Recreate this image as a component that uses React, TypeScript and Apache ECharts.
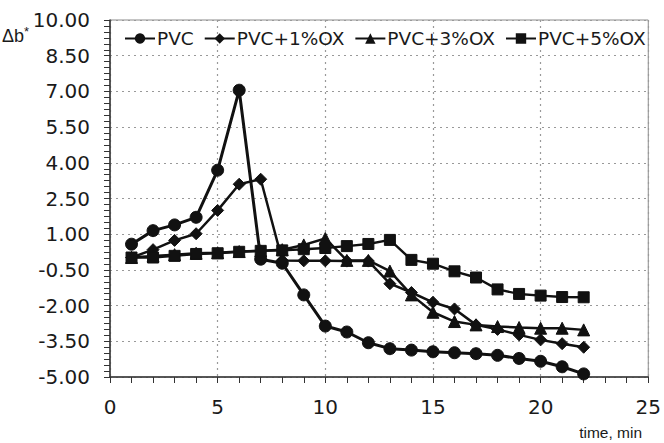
import React, { useEffect, useRef } from "react";
import * as echarts from "echarts";

const times = [1, 2, 3, 4, 5, 6, 7, 8, 9, 10, 11, 12, 13, 14, 15, 16, 17, 18, 19, 20, 21, 22];
const pvc = [0.58, 1.15, 1.39, 1.71, 3.69, 7.05, -0.05, -0.22, -1.55, -2.86, -3.11, -3.56, -3.81, -3.87, -3.94, -3.98, -4.02, -4.09, -4.22, -4.34, -4.57, -4.87];
const pvc1 = [0.02, 0.35, 0.74, 1.02, 2.0, 3.1, 3.31, -0.1, -0.12, -0.12, -0.13, -0.13, -1.08, -1.45, -1.86, -2.14, -2.81, -3.0, -3.23, -3.44, -3.6, -3.75];
const pvc3 = [0.02, 0.08, 0.14, 0.2, 0.22, 0.27, 0.3, 0.35, 0.55, 0.82, -0.1, -0.1, -0.55, -1.55, -2.28, -2.67, -2.81, -2.88, -2.92, -2.95, -2.95, -3.02];
const pvc5 = [0.02, 0.02, 0.09, 0.17, 0.2, 0.26, 0.3, 0.32, 0.37, 0.42, 0.5, 0.59, 0.76, -0.08, -0.24, -0.56, -0.82, -1.32, -1.51, -1.58, -1.64, -1.65];
const seriesNames = ["PVC", "PVC+1%OX", "PVC+3%OX", "PVC+5%OX"];
const seriesSymbols = ["circle", "diamond", "triangle", "rect"];
const yMin = -5;
const yMax = 10;
const yStep = 1.5;

const FONT = "DejaVu Sans, Verdana, sans-serif";
const FONT2 = "Liberation Sans, Arial, Helvetica, sans-serif";

export default function App() {
  const ref = useRef<HTMLDivElement>(null);
  useEffect(() => {
    if (!ref.current) return;
    const chart = echarts.init(ref.current, null, { renderer: "svg" });
    const values = [pvc, pvc1, pvc3, pvc5];
    const sizes = [12, 12, 12, 11];
    const widths = [3, 2.5, 2.5, 2.4];
    chart.setOption({
      animation: false,
      backgroundColor: "#ffffff",
      textStyle: { fontFamily: FONT },
      grid: {
        left: 110,
        right: 12,
        top: 20,
        bottom: 66,
        show: true,
        borderColor: "#8a8a8a",
        borderWidth: 1,
      },
      legend: {
        left: 119,
        top: 24,
        width: 540,
        itemWidth: 30,
        itemHeight: 13,
        itemGap: 10,
        textStyle: { fontSize: 18.5, color: "#1a1a1a", fontFamily: FONT, padding: [0, 0, 0, -3] },
        data: seriesNames,
      },
      xAxis: {
        type: "value",
        min: 0,
        max: 25,
        interval: 5,
        axisLine: { show: true, onZero: false, lineStyle: { color: "#333", width: 1.5 } },
        axisTick: { show: true, length: 6, lineStyle: { color: "#333" } },
        minorTick: { show: true, splitNumber: 5, length: 6, lineStyle: { color: "#333" } },
        axisLabel: { fontSize: 20, color: "#1a1a1a", margin: 20, fontFamily: FONT },
        splitLine: { show: true, lineStyle: { type: [2, 4], color: "#999", width: 1.2 } },
      },
      yAxis: [
        {
          type: "value",
          min: yMin,
          max: yMax,
          show: false,
        },
        {
          type: "value",
          position: "left",
          min: 0,
          max: yMax - yMin,
          interval: yStep,
          axisLine: { show: true, onZero: false, lineStyle: { color: "#333", width: 1.5 } },
          axisTick: { show: true, length: 6, lineStyle: { color: "#333" } },
          minorTick: { show: true, splitNumber: 6, length: 6, lineStyle: { color: "#333" } },
          axisLabel: {
            fontSize: 20,
            color: "#1a1a1a",
            margin: 20,
            fontFamily: FONT,
            formatter: (v: number) => (v + yMin).toFixed(2),
          },
          splitLine: { show: true, lineStyle: { type: [2, 4], color: "#999", width: 1.2 } },
        },
      ],
      series: seriesNames.map((name, i) => ({
        name,
        type: "line",
        yAxisIndex: 0,
        symbol: seriesSymbols[i],
        symbolSize: sizes[i],
        showAllSymbol: true,
        lineStyle: { color: "#111", width: widths[i] },
        itemStyle: { color: "#111", borderColor: "#111" },
        data: times.map((t, k) => [t, values[i][k]]),
      })),
      graphic: [
        {
          type: "text",
          left: 2,
          top: 25,
          style: {
            text: "{a|Δb}{s|*}",
            rich: {
              a: { fontSize: 18, fontFamily: FONT2, fill: "#1a1a1a" },
              s: { fontSize: 13, fontFamily: FONT2, fill: "#1a1a1a", verticalAlign: "top", padding: [0, 0, 8, 0] },
            },
          },
        },
        {
          type: "text",
          right: 22,
          top: 424,
          style: { text: "time, min", fontSize: 15.5, fontFamily: FONT2, fill: "#1a1a1a" },
        },
      ],
    });
    return () => chart.dispose();
  }, []);
  return <div ref={ref} style={{ width: 664, height: 443, position: "absolute", left: 0, top: 0 }} />;
}
